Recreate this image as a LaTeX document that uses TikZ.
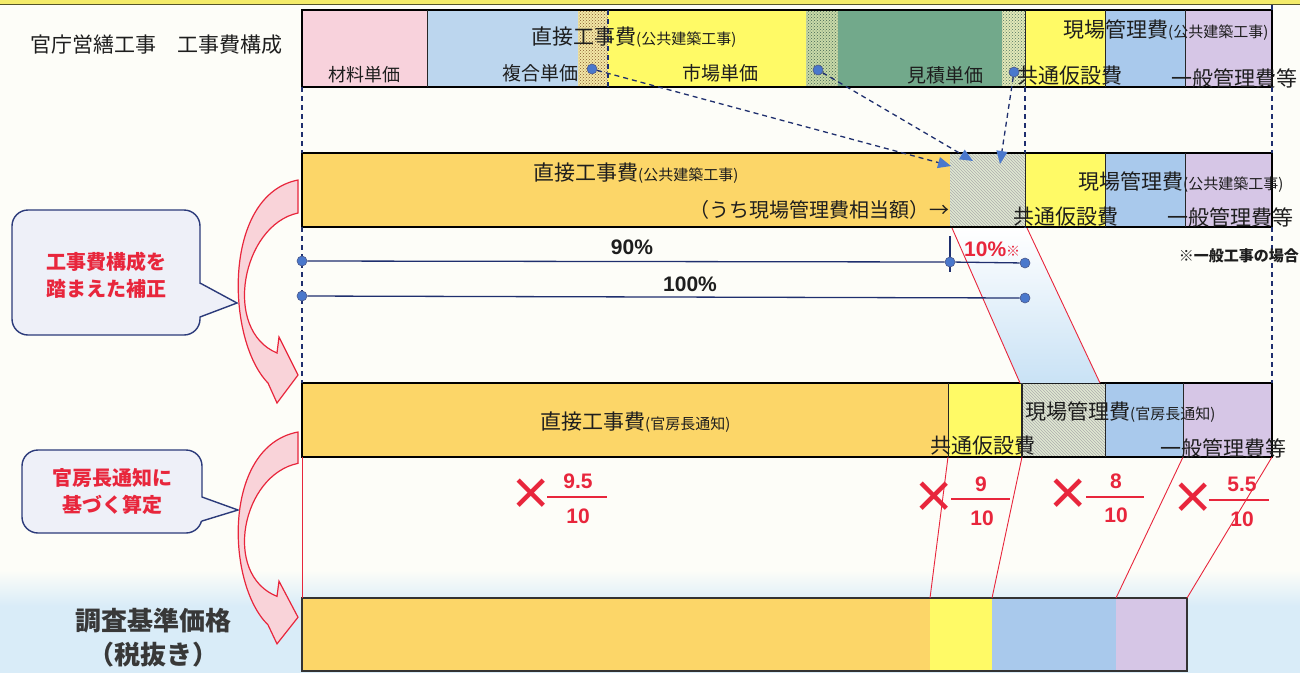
\documentclass[tikz,border=0pt]{standalone}
\usepackage{fontspec}
\setmainfont{Noto Sans CJK JP}
\newfontfamily\numfont{Liberation Sans}
\usetikzlibrary{patterns,arrows.meta}
\definecolor{bg}{HTML}{FDFDF8}
\definecolor{topyel}{HTML}{F4EC6A}
\definecolor{olivec}{HTML}{55552A}
\definecolor{pinkc}{HTML}{F8D2DC}
\definecolor{lblue}{HTML}{BCD6EE}
\definecolor{yel}{HTML}{FFFA66}
\definecolor{grn}{HTML}{72A98B}
\definecolor{orng}{HTML}{FCD668}
\definecolor{blu}{HTML}{A9C9EC}
\definecolor{purp}{HTML}{D6C6E6}
\definecolor{dotyel}{HTML}{F3E7A6}
\definecolor{dotgrn}{HTML}{C9DAA8}
\definecolor{dotlt}{HTML}{E2E8B8}
\definecolor{dotbase}{HTML}{E0E8D2}
\definecolor{navy}{HTML}{1F2F6E}
\definecolor{dotblue}{HTML}{4A78CC}
\definecolor{redc}{HTML}{E8263C}
\definecolor{arrowpink}{HTML}{F9D3D9}
\definecolor{bubble}{HTML}{EEF0F8}
\definecolor{bubbledraw}{HTML}{2B3A7A}
\definecolor{skyc}{HTML}{D9ECF8}
\definecolor{bandc}{HTML}{C9E2F5}
\definecolor{txtc}{HTML}{1E1E1E}
\begin{document}
\begin{tikzpicture}[x=1pt,y=-1pt,
  bar/.style={draw=black, line width=1.3pt},
  divider/.style={draw=black!85, line width=1pt},
  vdash/.style={draw=navy, line width=1.4pt, dash pattern=on 5pt off 4pt},
  dotmark/.style={circle, fill=dotblue, draw=navy!80, line width=0.6pt, inner sep=0pt, minimum size=10pt},
  darrow/.style={draw=navy, line width=1.3pt, dash pattern=on 5pt off 4pt, -{Triangle[length=13pt,width=11pt,fill=dotblue,color=dotblue]}},
  mline/.style={draw=navy, line width=1.3pt},
  big/.style={inner sep=0pt, text=txtc, font=\fontsize{21}{21}\selectfont},
  mid/.style={inner sep=0pt, text=txtc, font=\fontsize{19}{19}\selectfont},
  pct/.style={inner sep=0pt, text=txtc, font=\numfont\bfseries\fontsize{21}{21}\selectfont},
  carrow/.style={fill=arrowpink, draw=redc, line width=1.2pt},
  calltext/.style={inner sep=0pt, text=redc, align=center, font=\bfseries\fontsize{20}{27}\selectfont},
  timesmark/.style={inner sep=0pt, text=redc, font=\numfont\fontsize{64}{64}\selectfont},
  fracnum/.style={inner sep=0pt, text=redc, font=\numfont\bfseries\fontsize{21}{21}\selectfont},
  fracline/.style={draw=redc, line width=1.5pt},
  redline/.style={draw=redc, line width=0.9pt}
]
\useasboundingbox (0,0) rectangle (1300,673);
% background
\fill[bg] (0,0) rectangle (1300,673);
\shade[top color=bg, bottom color=skyc] (0,570) rectangle (1300,606);
\fill[skyc] (0,606) rectangle (1300,673);
\fill[topyel] (0,0) rectangle (1300,4);
\draw[olivec, line width=1.6pt] (0,4.5) -- (1300,4.5);

% ---------- Row 1 ----------
\fill[pinkc] (302,10) rectangle (427,87);
\fill[lblue] (427,10) rectangle (578,87);
\fill[dotyel] (578,10) rectangle (608,87);
\fill[pattern=crosshatch dots, pattern color=brown!70!black] (578,10) rectangle (608,87);
\fill[yel] (608,10) rectangle (806,87);
\fill[dotgrn] (806,10) rectangle (838,87);
\fill[pattern=crosshatch dots, pattern color=grn!60!black] (806,10) rectangle (838,87);
\fill[grn] (838,10) rectangle (1002,87);
\fill[dotlt] (1002,10) rectangle (1025,87);
\fill[pattern=crosshatch dots, pattern color=grn!70!black] (1002,10) rectangle (1025,87);
\fill[yel] (1025,10) rectangle (1105,87);
\fill[blu] (1105,10) rectangle (1185,87);
\fill[purp] (1185,10) rectangle (1272,87);
\draw[bar] (302,10) rectangle (1272,87);
\draw[divider] (427,10) -- (427,87);
\draw[divider] (1025,10) -- (1025,87);
\draw[divider] (1105,10) -- (1105,87);
\draw[divider] (1185,10) -- (1185,87);
\draw[vdash] (608,10) -- (608,87);

% ---------- Row 2 ----------
\fill[orng] (302,153) rectangle (950,227);
\fill[dotbase] (950,153) rectangle (1025,227);
\fill[pattern=north west lines, pattern color=black!32] (950,153) rectangle (1025,227);
\fill[yel] (1025,153) rectangle (1105,227);
\fill[blu] (1105,153) rectangle (1185,227);
\fill[purp] (1185,153) rectangle (1272,227);
\draw[bar] (302,153) rectangle (1272,227);
\draw[divider] (1025,153) -- (1025,227);
\draw[divider] (1105,153) -- (1105,227);
\draw[divider] (1185,153) -- (1185,227);

% ---------- Row 3 ----------
\fill[orng] (302,383) rectangle (948,457);
\fill[yel] (948,383) rectangle (1022,457);
\fill[dotbase] (1022,383) rectangle (1105,457);
\fill[pattern=north west lines, pattern color=black!32] (1022,383) rectangle (1105,457);
\fill[blu] (1105,383) rectangle (1183,457);
\fill[purp] (1183,383) rectangle (1272,457);
\draw[bar] (302,383) rectangle (1272,457);
\draw[divider] (948,383) -- (948,457);
\draw[divider, line width=1.5pt] (1022,383) -- (1022,457);
\draw[divider] (1105,383) -- (1105,457);
\draw[divider] (1183,383) -- (1183,457);

% ---------- Row 4 ----------
\fill[orng] (302,598) rectangle (930,671);
\fill[yel] (930,598) rectangle (992,671);
\fill[blu] (992,598) rectangle (1116,671);
\fill[purp] (1116,598) rectangle (1187,671);
\draw[line width=2.5pt, black!80] (302,598) rectangle (1187,671);

% ---------- dashed verticals ----------
\coordinate (vl1) at (302,87);  \coordinate (vl2) at (302,153);
\coordinate (vl3) at (302,227); \coordinate (vl4) at (302,383);
\coordinate (vm1) at (1025,87); \coordinate (vm2) at (1025,153);
\coordinate (vm3) at (1025,227); \coordinate (vm4) at (1025,322);
\coordinate (vr0) at (1272,5);  \coordinate (vr1) at (1272,10);
\coordinate (vr2) at (1272,87); \coordinate (vr3) at (1272,153);
\coordinate (vr4) at (1272,227); \coordinate (vr5) at (1272,383);
\draw[vdash] (vl1) -- (vl2);
\draw[vdash] (vl3) -- (vl4);
\draw[vdash] (vm1) -- (vm2);
\draw[vdash] (vm3) -- (vm4);
\draw[vdash] (vr0) -- (vr1);
\draw[vdash] (vr2) -- (vr3);
\draw[vdash] (vr4) -- (vr5);

% ---------- red band ----------
\coordinate (b1) at (952,228); \coordinate (b2) at (1027,228);
\coordinate (b3) at (1100,383); \coordinate (b4) at (1020,383);
\shade[top color=white, bottom color=bandc] (b1) -- (b2) -- (b3) -- (b4) -- cycle;
\draw[redline] (b1) -- (b4);
\draw[redline] (b2) -- (b3);

% ---------- measurement lines ----------
\coordinate (t90a) at (950,236); \coordinate (t90b) at (950,272);
\draw[mline, line width=1.6pt] (t90a) -- (t90b);
\node[dotmark] (m90a) at (302,261) {};
\node[dotmark] (m90b) at (950,262) {};
\node[dotmark] (m90c) at (1025,263) {};
\node[dotmark] (m100a) at (302,296) {};
\node[dotmark] (m100b) at (1025,298) {};
\draw[mline] (m90a) -- (m90b);
\draw[mline] (m90b) -- (m90c);
\draw[mline] (m100a) -- (m100b);
\node[pct] (p90) at (632,247) {90\%};
\node[pct] (p100) at (690,284) {100\%};
\node[inner sep=0pt, anchor=west, text=redc] (p10) at (964,249) {{\numfont\bfseries\fontsize{21}{21}\selectfont 10\%}{\fontsize{14}{14}\selectfont ※}};

% ---------- dashed arrows from dots ----------
\node[dotmark] (d1) at (592,69) {};
\node[dotmark] (d2) at (818,70) {};
\node[dotmark] (d3) at (1014,72) {};
\coordinate (a1) at (951,166);
\coordinate (a2) at (973,161);
\coordinate (a3) at (1000,164);
\draw[darrow] (d1) -- (a1);
\draw[darrow] (d2) -- (a2);
\draw[darrow] (d3) -- (a3);

% ---------- red lines row 3 -> row 4 ----------
\coordinate (r0a) at (302,457); \coordinate (r0b) at (302,598);
\coordinate (r1a) at (948,457); \coordinate (r1b) at (930,598);
\coordinate (r2a) at (1022,457); \coordinate (r2b) at (992,598);
\coordinate (r3a) at (1183,457); \coordinate (r3b) at (1116,598);
\coordinate (r4a) at (1272,457); \coordinate (r4b) at (1187,598);
\draw[redline] (r0a) -- (r0b);
\draw[redline] (r1a) -- (r1b);
\draw[redline] (r2a) -- (r2b);
\draw[redline] (r3a) -- (r3b);
\draw[redline] (r4a) -- (r4b);

% ---------- texts: header and row 1 ----------
\node[big] (title) at (156,45) {官庁営繕工事　工事費構成};
\node[mid, font=\fontsize{18}{18}\selectfont] (zai) at (364,75) {材料単価};
\node[big, anchor=west] (choku1) at (531,37) {直接工事費{\fontsize{15}{15}\selectfont (公共建築工事)}};
\node[mid] (fuku) at (540,73) {複合単価};
\node[mid] (shijo) at (720,73) {市場単価};
\node[mid] (mitsu) at (945,75) {見積単価};
\node[big, anchor=west] (gen1) at (1063,30) {現場管理費{\fontsize{15}{15}\selectfont (公共建築工事)}};
\node[big, anchor=west] (kyo1) at (1017,76) {共通仮設費};
\node[big, anchor=east] (ippan1) at (1298,78) {一般管理費等};

% ---------- texts: row 2 ----------
\node[big, anchor=west] (choku2) at (533,173) {直接工事費{\fontsize{15}{15}\selectfont (公共建築工事)}};
\node[big, anchor=east, font=\fontsize{20}{20}\selectfont] (uchi) at (950,210) {（うち現場管理費相当額）→};
\node[big, anchor=west] (gen2) at (1078,182) {現場管理費{\fontsize{15}{15}\selectfont (公共建築工事)}};
\node[big, anchor=west] (kyo2) at (1013,217) {共通仮設費};
\node[big, anchor=east] (ippan2) at (1294,217) {一般管理費等};
\node[inner sep=0pt, anchor=east, text=txtc, font=\bfseries\fontsize{15}{15}\selectfont] (note) at (1299,256) {※一般工事の場合};

% ---------- texts: row 3 ----------
\node[big, anchor=west] (choku3) at (540,422) {直接工事費{\fontsize{15}{15}\selectfont (官房長通知)}};
\node[big, anchor=west] (gen3) at (1025,412) {現場管理費{\fontsize{15}{15}\selectfont (官房長通知)}};
\node[big, anchor=west] (kyo3) at (930,446) {共通仮設費};
\node[big, anchor=east] (ippan3) at (1287,448) {一般管理費等};

% ---------- multipliers ----------
\node[timesmark] (x1) at (531,497) {×};
\node[fracnum] (n1) at (578,481) {9.5};
\node[fracnum] (dn1) at (578,516) {10};
\draw[fracline] (547,497) -- (607,497);
\node[timesmark] (x2) at (934,500) {×};
\node[fracnum] (n2) at (981,484) {9};
\node[fracnum] (dn2) at (982,518) {10};
\draw[fracline] (951,499) -- (1010,499);
\node[timesmark] (x3) at (1068,497) {×};
\node[fracnum] (n3) at (1116,481) {8};
\node[fracnum] (dn3) at (1116,515) {10};
\draw[fracline] (1086,497) -- (1144,497);
\node[timesmark] (x4) at (1193,501) {×};
\node[fracnum] (n4) at (1242,484) {5.5};
\node[fracnum] (dn4) at (1242,519) {10};
\draw[fracline] (1209,500) -- (1269,500);

% ---------- callouts ----------
\draw[draw=bubbledraw, line width=1.4pt, fill=bubble, rounded corners=16pt] (12,210) rectangle (200,335);
\fill[bubble] (198,283) -- (237,303) -- (198,317) -- cycle;
\coordinate (tl1) at (200,283); \coordinate (tp1) at (237,303); \coordinate (tb1) at (200,317);
\draw[draw=bubbledraw, line width=1.4pt] (tl1) -- (tp1) -- (tb1);
\node[calltext] (call1) at (106,275) {工事費構成を\\踏まえた補正};

\draw[draw=bubbledraw, line width=1.4pt, fill=bubble, rounded corners=16pt] (22,450) rectangle (202,533);
\fill[bubble] (200,497) -- (238,510) -- (200,521) -- cycle;
\coordinate (tl2) at (202,497); \coordinate (tp2) at (238,510); \coordinate (tb2) at (202,521);
\draw[draw=bubbledraw, line width=1.4pt] (tl2) -- (tp2) -- (tb2);
\node[calltext] (call2) at (112,491) {官房長通知に\\基づく算定};

% ---------- curved arrows ----------
\begin{scope}[shift={(0,180)}]
\draw[carrow] (298,0) -- (298,33) .. controls (242,45) and (222,150) .. (277,173) -- (279,157) -- (298,195) -- (277,223) -- (268,203) .. controls (226,160) and (222,15) .. (298,0) -- cycle;
\end{scope}
\begin{scope}[shift={(0,432)}, yscale=0.95]
\draw[carrow] (298,0) -- (298,33) .. controls (242,45) and (222,150) .. (277,173) -- (279,157) -- (298,195) -- (277,223) -- (268,203) .. controls (226,160) and (222,15) .. (298,0) -- cycle;
\end{scope}

% ---------- bottom label ----------
\node[inner sep=0pt, align=center, text=black!78, font=\bfseries\fontsize{26}{34}\selectfont] (chosa) at (153,638) {調査基準価格\\（税抜き）};
\end{tikzpicture}
\end{document}
